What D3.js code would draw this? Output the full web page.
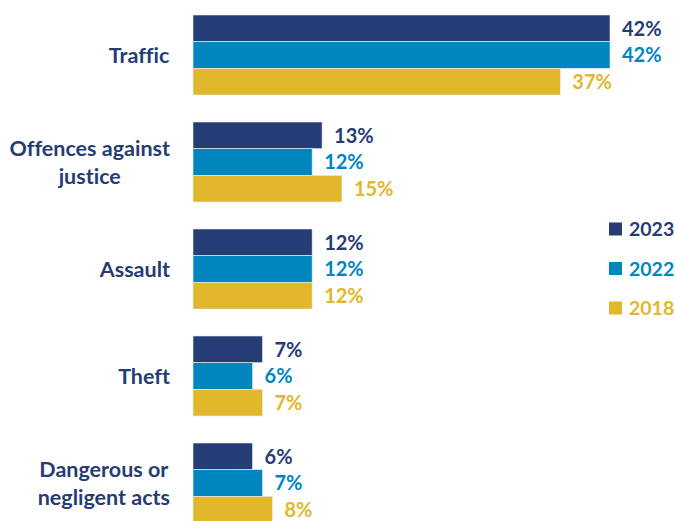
<!DOCTYPE html>
<html>
<head>
<meta charset="utf-8">
<script src="https://cdn.jsdelivr.net/npm/d3@7"></script>
<style>
  body { margin: 0; background: #fff; }
  svg { font-family: Lato, "Open Sans", sans-serif; font-weight: bold; font-variant-ligatures: none; }
</style>
</head>
<body>
<svg id="chart" width="675" height="521"></svg>
<script>
const categories = [
  ["Traffic"],
  ["Offences against", "justice"],
  ["Assault"],
  ["Theft"],
  ["Dangerous or", "negligent acts"],
];
const years = ["2023", "2022", "2018"];
const values2023 = [42, 13, 12, 7, 6];
const values2022 = [42, 12, 12, 6, 7];
const values2018 = [37, 15, 12, 7, 8];

const colors = { "2023": "#263c74", "2022": "#0086bf", "2018": "#e1b72b" };
const series = { "2023": values2023, "2022": values2022, "2018": values2018 };

const svg = d3.select("#chart");
const catKeys = categories.map((d) => d.join(" "));

const xScale = d3.scaleLinear().domain([0, 42]).range([193, 610]);
const yScale = d3.scaleBand().domain(catKeys).range([15, 523])
  .paddingInner(27 / 107).paddingOuter(0);
const subScale = d3.scaleBand().domain(years).range([0, yScale.bandwidth()]);

const rows = [];
catKeys.forEach((c, i) => {
  years.forEach((y) => rows.push({ cat: c, year: y, value: series[y][i] }));
});

// bars
svg.append("g").selectAll("rect").data(rows).join("rect")
  .attr("x", xScale(0))
  .attr("y", (d) => yScale(d.cat) + subScale(d.year))
  .attr("width", (d) => xScale(d.value) - xScale(0))
  .attr("height", subScale.bandwidth())
  .attr("fill", (d) => colors[d.year])
  .attr("stroke", "#e8eef6")
  .attr("stroke-width", 0.6);

// value labels
svg.append("g").selectAll("text").data(rows).join("text")
  .attr("x", (d) => xScale(d.value) + 12)
  .attr("y", (d) => yScale(d.cat) + subScale(d.year) + subScale.bandwidth() / 2)
  .attr("dy", "0.36em")
  .attr("fill", (d) => colors[d.year])
  .attr("font-size", 20)
  .text((d) => d.value + "%");

// category labels: lines centred among themselves, block right-aligned
const lineHeight = 28;
categories.forEach((lines, i) => {
  const cy = yScale(catKeys[i]) + yScale.bandwidth() / 2;
  const g = svg.append("g");
  const t = g.append("text")
    .attr("text-anchor", "middle")
    .attr("fill", "#263c74")
    .attr("font-size", 21.5);
  lines.forEach((l, j) => {
    t.append("tspan")
      .attr("x", 0)
      .attr("y", (j - (lines.length - 1) / 2) * lineHeight)
      .attr("dy", "0.36em")
      .text(l);
  });
  const bb = t.node().getBBox();
  g.attr("transform", `translate(${170 - (bb.x + bb.width)},${cy})`);
});

// legend
const legend = svg.append("g").selectAll("g").data(years).join("g")
  .attr("transform", (d, i) => `translate(609,${229 + i * 39.5})`);
legend.append("rect")
  .attr("x", 0).attr("y", -6.5)
  .attr("width", 13).attr("height", 13)
  .attr("fill", (d) => colors[d]);
legend.append("text")
  .attr("x", 20).attr("dy", "0.36em")
  .attr("font-size", 19.5)
  .attr("fill", (d) => colors[d])
  .text((d) => d);
</script>
</body>
</html>
